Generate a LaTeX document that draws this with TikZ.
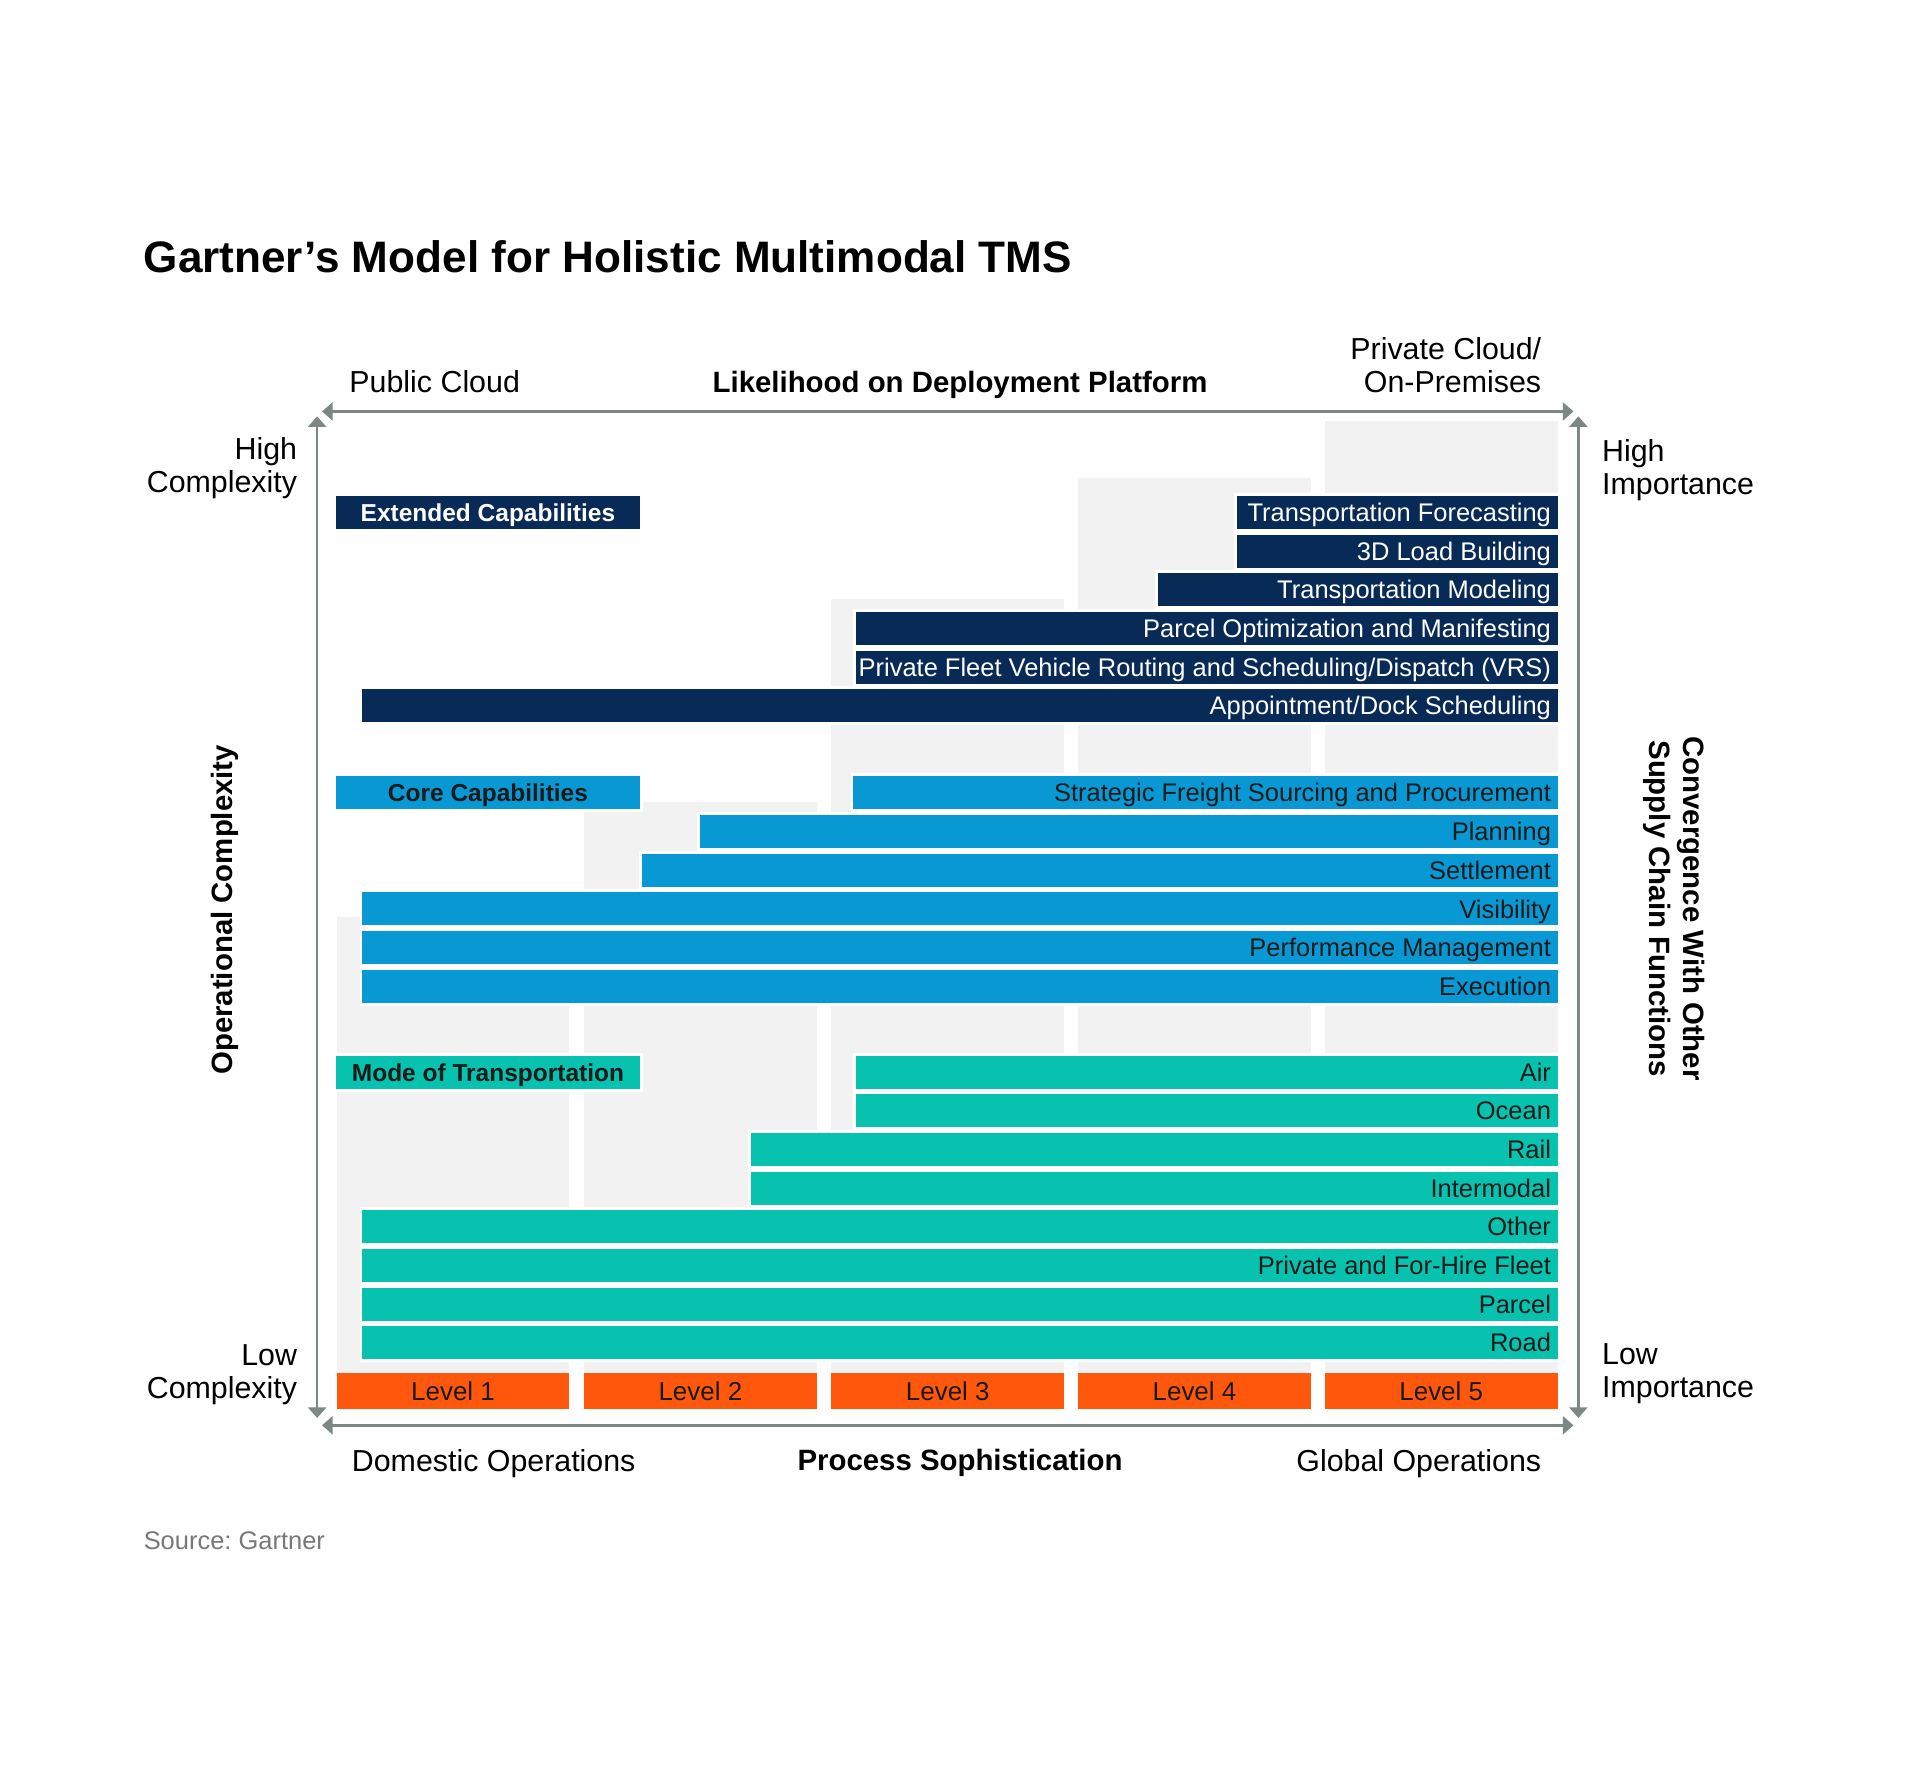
\documentclass[tikz,border=0pt]{standalone}
\usepackage{fontspec}
\setmainfont{Liberation Sans}
\usetikzlibrary{arrows.meta}
\frenchspacing

\definecolor{extnavy}{RGB}{8,42,87}
\definecolor{coreblue}{RGB}{8,152,212}
\definecolor{modeteal}{RGB}{6,194,174}
\definecolor{levelorange}{RGB}{255,88,12}
\definecolor{colgray}{RGB}{242,242,242}
\definecolor{axisgray}{RGB}{125,136,133}
\definecolor{inkdark}{RGB}{26,26,26}

\begin{document}
\begin{tikzpicture}[x=0.5pt, y=-0.5pt,
  axis/.style={axisgray, line width=1pt, {Triangle[length=4.3pt,width=7.3pt]}-{Triangle[length=4.3pt,width=7.3pt]}},
  column/.style={fill=colgray},
  rowbar/.style={preaction={draw=white, line width=2.4pt}},
  rowtxt/.style={anchor=east, inner sep=0pt, font=\fontsize{10.4}{12}\selectfont, text height=1.4ex, text depth=0pt},
  headtxt/.style={inner sep=0pt, font=\fontsize{10}{12}\selectfont\bfseries, text height=1.4ex, text depth=0pt},
  levelbox/.style={fill=levelorange, text=inkdark, minimum width=95pt, minimum height=15pt, inner sep=0pt, font=\fontsize{10.6}{12}\selectfont, text height=1.4ex, text depth=0pt},
  axislabel/.style={inner sep=0pt, font=\fontsize{12.4}{13.5}\selectfont},
  axistitle/.style={inner sep=0pt, font=\fontsize{12}{14}\selectfont\bfseries}]

  \path[use as bounding box, fill=white] (0,0) rectangle (1568,1456);

  \node[inner sep=0pt, anchor=west, font=\fontsize{18}{22}\selectfont\bfseries] (title) at (117,210) {Gartner’s Model for Holistic Multimodal TMS};

  % level columns
  \fill[column] (275,749) rectangle (465,1121);
  \fill[column] (477,655) rectangle (667,1121);
  \fill[column] (679,489) rectangle (869,1121);
  \fill[column] (880,390) rectangle (1071,1121);
  \fill[column] (1082,344) rectangle (1272,1121);

  % axes
  \coordinate (tl) at (259,336);
  \coordinate (tr) at (1289,336);
  \coordinate (bl) at (259,1164);
  \coordinate (br) at (1289,1164);
  \draw[axis, shorten <=2pt, shorten >=2pt] (tl) -- (tr);
  \draw[axis, shorten <=2pt, shorten >=3pt] (tl) -- (bl);
  \draw[axis, shorten <=2pt, shorten >=3pt] (tr) -- (br);
  \draw[axis, shorten <=2pt, shorten >=2pt] (bl) -- (br);

  % extended capabilities
  \fill[extnavy, rowbar] (274,405) rectangle (523,432);
  \node[headtxt, text=white] (exthead) at (398.5,418.5) {Extended Capabilities};
  \fill[extnavy, rowbar] (1010,405) rectangle (1272,432);
  \node[rowtxt, text=white] (forecast) at (1267,418.5) {Transportation Forecasting};
  \fill[extnavy, rowbar] (1010,436.6) rectangle (1272,463.6);
  \node[rowtxt, text=white] (loadbuild) at (1267,450.1) {3D Load Building};
  \fill[extnavy, rowbar] (946,468.2) rectangle (1272,495.2);
  \node[rowtxt, text=white] (modeling) at (1267,481.7) {Transportation Modeling};
  \fill[extnavy, rowbar] (699,499.8) rectangle (1272,526.8);
  \node[rowtxt, text=white] (parcelopt) at (1267,513.3) {Parcel Optimization and Manifesting};
  \fill[extnavy, rowbar] (699,531.4) rectangle (1272,558.4);
  \node[rowtxt, text=white] (vrs) at (1267,544.9) {Private Fleet Vehicle Routing and Scheduling/Dispatch (VRS)};
  \fill[extnavy, rowbar] (296,563) rectangle (1272,590);
  \node[rowtxt, text=white] (dock) at (1267,576.5) {Appointment/Dock Scheduling};

  % core capabilities
  \fill[coreblue, rowbar] (274,634) rectangle (523,661);
  \node[headtxt, text=inkdark] (corehead) at (398.5,647.5) {Core Capabilities};
  \fill[coreblue, rowbar] (697,634) rectangle (1272,661);
  \node[rowtxt, text=inkdark] (sourcing) at (1267,647.5) {Strategic Freight Sourcing and Procurement};
  \fill[coreblue, rowbar] (572,665.6) rectangle (1272,692.6);
  \node[rowtxt, text=inkdark] (planning) at (1267,679.1) {Planning};
  \fill[coreblue, rowbar] (524,697.2) rectangle (1272,724.2);
  \node[rowtxt, text=inkdark] (settlement) at (1267,710.7) {Settlement};
  \fill[coreblue, rowbar] (296,728.8) rectangle (1272,755.8);
  \node[rowtxt, text=inkdark] (visibility) at (1267,742.3) {Visibility};
  \fill[coreblue, rowbar] (296,760.4) rectangle (1272,787.4);
  \node[rowtxt, text=inkdark] (perfmgmt) at (1267,773.9) {Performance Management};
  \fill[coreblue, rowbar] (296,792) rectangle (1272,819);
  \node[rowtxt, text=inkdark] (execution) at (1267,805.5) {Execution};

  % mode of transportation
  \fill[modeteal, rowbar] (274,862) rectangle (523,889);
  \node[headtxt, text=inkdark] (modehead) at (398.5,875.5) {Mode of Transportation};
  \fill[modeteal, rowbar] (699,862) rectangle (1272,889);
  \node[rowtxt, text=inkdark] (air) at (1267,875.5) {Air};
  \fill[modeteal, rowbar] (699,893.6) rectangle (1272,920.6);
  \node[rowtxt, text=inkdark] (ocean) at (1267,907.1) {Ocean};
  \fill[modeteal, rowbar] (613,925.2) rectangle (1272,952.2);
  \node[rowtxt, text=inkdark] (rail) at (1267,938.7) {Rail};
  \fill[modeteal, rowbar] (613,956.8) rectangle (1272,983.8);
  \node[rowtxt, text=inkdark] (intermodal) at (1267,970.3) {Intermodal};
  \fill[modeteal, rowbar] (296,988.4) rectangle (1272,1015.4);
  \node[rowtxt, text=inkdark] (other) at (1267,1001.9) {Other};
  \fill[modeteal, rowbar] (296,1020) rectangle (1272,1047);
  \node[rowtxt, text=inkdark] (fleet) at (1267,1033.5) {Private and For-Hire Fleet};
  \fill[modeteal, rowbar] (296,1051.6) rectangle (1272,1078.6);
  \node[rowtxt, text=inkdark] (parcel) at (1267,1065.1) {Parcel};
  \fill[modeteal, rowbar] (296,1083.2) rectangle (1272,1110.2);
  \node[rowtxt, text=inkdark] (road) at (1267,1096.7) {Road};

  % levels
  \node[levelbox] (level1) at (370,1136) {Level 1};
  \node[levelbox] (level2) at (572,1136) {Level 2};
  \node[levelbox] (level3) at (774,1136) {Level 3};
  \node[levelbox] (level4) at (975.5,1136) {Level 4};
  \node[levelbox] (level5) at (1177,1136) {Level 5};

  % axis labels
  \node[axislabel, anchor=west] (public) at (285,312) {Public Cloud};
  \node[axistitle] (platform) at (784,314) {Likelihood on Deployment Platform};
  \node[axislabel, anchor=east, align=right] (private) at (1259,298) {Private Cloud/\\On-Premises};
  \node[axislabel, anchor=east, align=right] (highcx) at (243,382) {High\\Complexity};
  \node[axislabel, anchor=east, align=right] (lowcx) at (243,1123) {Low\\Complexity};
  \node[axislabel, anchor=west, align=left] (highimp) at (1308,384) {High\\Importance};
  \node[axislabel, anchor=west, align=left] (lowimp) at (1308,1121.5) {Low\\Importance};
  \node[axislabel, anchor=west] (domestic) at (287,1195) {Domestic Operations};
  \node[axistitle] (process) at (784,1195) {Process Sophistication};
  \node[axislabel, anchor=east] (global) at (1259,1195) {Global Operations};
  \node[axistitle, rotate=90] (opcx) at (184,743) {Operational Complexity};
  \node[axistitle, rotate=-90, align=center] (converge) at (1367,742) {Convergence With Other\\Supply Chain Functions};

  \node[inner sep=0pt, anchor=west, text={rgb,255:red,120;green,120;blue,120}, font=\fontsize{10.4}{12}\selectfont] (source) at (117,1258) {Source: Gartner};
\end{tikzpicture}
\end{document}
